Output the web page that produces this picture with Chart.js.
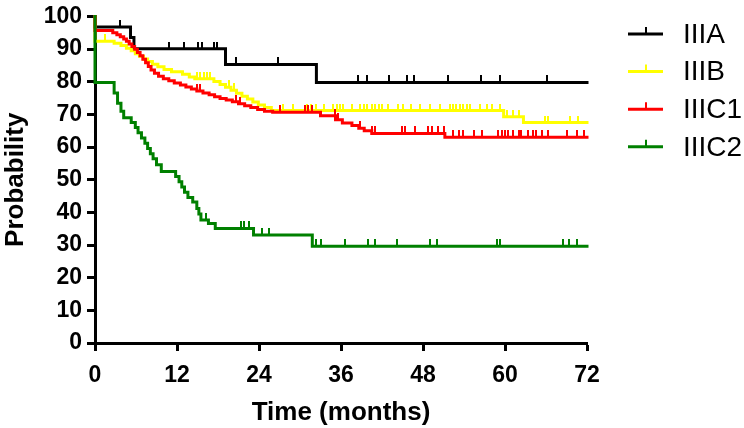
<!DOCTYPE html>
<html><head><meta charset="utf-8">
<script src="https://cdn.jsdelivr.net/npm/chart.js@4.4.1/dist/chart.umd.min.js"></script>
<style>html,body{margin:0;padding:0;background:#fff}#wrap{width:744px;height:428px;position:relative}</style>
</head><body><div id="wrap"><canvas id="c" width="744" height="428"></canvas></div>
<script>
const seriesNames = ['IIIA', 'IIIB', 'IIIC1', 'IIIC2'];
const seriesColors = ['#000000', '#ffff00', '#ff0000', '#008000'];
const xTicks = [0, 12, 24, 36, 48, 60, 72];
const yTicks = [0, 10, 20, 30, 40, 50, 60, 70, 80, 90, 100];

const timeIIIA = [0, 0, 5.2, 5.7, 19.1, 32.4, 72];
const survIIIA = [100, 96.8, 93.6, 90.1, 85.3, 79.8, 79.8];
const censorIIIA = [3.6, 10.8, 13.0, 15.1, 15.6, 17.4, 17.9, 20.6, 26.8, 38.5, 39.8, 43.0, 45.7, 46.7, 51.6, 56.5, 59.3, 66.1];

const timeIIIB = [0, 0, 2.8, 3.8, 4.6, 5.3, 5.9, 6.5, 7.1, 7.7, 8.4, 9.2, 10.1, 11.2, 12.8, 13.8, 14.6, 17.4, 18.3, 19.1, 19.9, 20.7, 21.5, 22.3, 23.1, 23.9, 24.8, 25.8, 59.8, 62.7, 72];
const survIIIB = [100, 92.4, 91.8, 91.1, 90.3, 89.5, 88.6, 87.8, 87.0, 86.2, 85.4, 84.6, 83.8, 83.1, 82.3, 81.5, 80.9, 80.1, 79.2, 78.3, 77.4, 76.5, 75.6, 74.7, 73.8, 72.9, 72.1, 71.2, 69.3, 67.5, 67.5];
const censorIIIB = [1.5, 14.9, 15.4, 15.9, 16.4, 16.9, 19.6, 20.3, 27.5, 29.0, 31.0, 31.6, 32.4, 33.5, 34.9, 35.4, 35.9, 36.3, 37.6, 38.8, 39.3, 39.8, 40.5, 41.0, 41.5, 42.0, 42.9, 44.4, 45.1, 46.3, 47.6, 49.0, 50.5, 52.0, 52.4, 52.9, 53.4, 53.9, 54.4, 54.9, 56.3, 57.3, 58.1, 59.3, 60.3, 61.2, 62.0, 65.9, 66.3, 69.5, 70.7];

const timeIIIC1 = [0, 0, 2.6, 3.2, 3.7, 4.2, 4.6, 5.0, 5.4, 5.8, 6.2, 6.6, 7.0, 7.4, 7.8, 8.2, 8.7, 9.3, 10.0, 10.8, 11.6, 12.5, 13.3, 14.1, 14.9, 15.8, 16.7, 17.5, 18.3, 19.2, 20.1, 21.0, 21.9, 22.8, 23.8, 24.8, 26.0, 33.0, 35.2, 36.2, 37.6, 38.6, 39.4, 40.5, 51.2, 72];
const survIIIC1 = [100, 95.7, 95.0, 94.4, 93.8, 93.1, 92.4, 91.6, 90.8, 90.0, 89.0, 88.0, 86.9, 85.8, 84.7, 83.6, 82.6, 81.7, 80.9, 80.3, 79.6, 79.0, 78.4, 77.8, 77.2, 76.6, 76.0, 75.4, 74.9, 74.4, 73.9, 73.3, 72.7, 72.1, 71.5, 71.0, 70.7, 69.6, 68.4, 67.4, 66.6, 65.8, 65.0, 64.2, 63.0, 63.0];
const censorIIIC1 = [14.9, 15.3, 20.7, 21.2, 27.0, 30.7, 31.2, 31.7, 35.1, 35.6, 38.8, 40.5, 41.0, 44.9, 45.4, 46.8, 48.8, 49.3, 50.2, 51.0, 52.4, 53.2, 53.9, 55.4, 56.6, 59.0, 59.5, 60.0, 60.5, 61.2, 62.0, 62.4, 63.4, 64.1, 64.6, 65.4, 66.3, 69.0, 70.5, 71.5];

const timeIIIC2 = [0, 0, 2.8, 3.3, 3.8, 4.2, 5.3, 5.9, 6.3, 6.8, 7.3, 7.7, 8.1, 8.5, 9.0, 9.7, 11.8, 12.3, 12.7, 13.1, 13.6, 14.3, 14.9, 15.2, 15.5, 16.6, 17.6, 23.2, 31.8, 72];
const survIIIC2 = [100, 79.8, 76.6, 73.4, 71.0, 69.0, 67.5, 66.0, 64.4, 62.8, 61.2, 59.6, 58.0, 56.4, 54.6, 52.5, 51.0, 49.4, 47.8, 46.2, 44.6, 43.2, 41.2, 39.5, 37.7, 36.6, 35.1, 33.1, 29.6, 29.6];
const censorIIIC2 = [16.2, 21.3, 21.8, 22.5, 24.4, 25.4, 32.4, 33.0, 36.6, 40.0, 41.0, 44.2, 49.0, 50.0, 58.8, 59.3, 68.5, 69.3, 70.5];

const allTimes = [timeIIIA, timeIIIB, timeIIIC1, timeIIIC2];
const allSurv = [survIIIA, survIIIB, survIIIC1, survIIIC2];
const allCensor = [censorIIIA, censorIIIB, censorIIIC1, censorIIIC2];

const FONT = '"Liberation Sans", Arial, Helvetica, sans-serif';

function stepValue(times, surv, t) {
  let v = surv[0];
  for (let i = 0; i < times.length; i++) { if (times[i] <= t) v = surv[i]; else break; }
  return v;
}
function tickImage(color) {
  const c = document.createElement('canvas');
  c.width = 2; c.height = 14;
  const g = c.getContext('2d');
  g.fillStyle = color; g.fillRect(0, 0, 2, 7);
  return c;
}

const datasets = [];
seriesNames.forEach((name, i) => {
  const base = (3 - i) * 2;
  datasets.push({
    label: name,
    data: allTimes[i].map((t, k) => ({x: t, y: allSurv[i][k]})),
    borderColor: seriesColors[i], backgroundColor: seriesColors[i],
    borderWidth: 3, stepped: 'before', pointRadius: 0, fill: false,
    clip: 6, order: base + 1, borderCapStyle: 'square'
  });
  datasets.push({
    label: name + ' censored',
    data: allCensor[i].map(t => ({x: t, y: stepValue(allTimes[i], allSurv[i], t)})),
    showLine: false, pointStyle: tickImage(seriesColors[i]), pointRadius: 3,
    borderColor: seriesColors[i], backgroundColor: seriesColors[i],
    clip: 10, order: base
  });
});

const legendPlugin = {
  id: 'kmLegend',
  afterDraw(chart) {
    const ctx = chart.ctx;
    ctx.save();
    seriesNames.forEach((n, i) => {
      const y = 34 + i * 37.6;
      ctx.strokeStyle = seriesColors[i];
      ctx.lineWidth = 3;
      ctx.beginPath();
      ctx.moveTo(628, y); ctx.lineTo(663, y);
      ctx.stroke();
      ctx.lineWidth = 2;
      ctx.beginPath();
      ctx.moveTo(646, y); ctx.lineTo(646, y - 7);
      ctx.stroke();
      ctx.fillStyle = '#000';
      ctx.font = '28px ' + FONT;
      ctx.textBaseline = 'middle';
      ctx.textAlign = 'left';
      ctx.fillText(n, 683, y + 1);
    });
    ctx.restore();
  }
};

new Chart(document.getElementById('c'), {
  type: 'line',
  data: {datasets},
  options: {
    responsive: false, animation: false, devicePixelRatio: 1, events: [],
    layout: {padding: {left: 0, top: 12, right: 157, bottom: 0}},
    plugins: {legend: {display: false}, tooltip: {enabled: false}},
    scales: {
      x: {
        type: 'linear', min: 0, max: 72,
        afterBuildTicks: s => { s.ticks = xTicks.map(v => ({value: v})); },
        afterFit: s => { s.height = 85; },
        grid: {drawOnChartArea: false, drawTicks: true, tickLength: 8, tickWidth: 3, color: '#000'},
        border: {display: true, color: '#000', width: 3},
        ticks: {color: '#000', font: {family: FONT, size: 23, weight: 'bold', lineHeight: 1}, padding: 13, maxRotation: 0, autoSkip: false},
        title: {display: true, text: 'Time (months)', color: '#000', font: {family: FONT, size: 26, weight: 'bold', lineHeight: 1.2}, padding: {top: 0, bottom: 0}}
      },
      y: {
        type: 'linear', min: 0, max: 100,
        afterBuildTicks: s => { s.ticks = yTicks.map(v => ({value: v})); },
        afterFit: s => { s.width = 95; },
        grid: {drawOnChartArea: false, drawTicks: true, tickLength: 8, tickWidth: 3, color: '#000'},
        border: {display: true, color: '#000', width: 3},
        ticks: {color: '#000', font: {family: FONT, size: 23, weight: 'bold', lineHeight: 1}, padding: 5, autoSkip: false},
        title: {display: true, text: 'Probability', color: '#000', font: {family: FONT, size: 26, weight: 'bold', lineHeight: 1.2}, padding: {top: 0, bottom: 0}}
      }
    }
  },
  plugins: [legendPlugin]
});
</script>
</body></html>
